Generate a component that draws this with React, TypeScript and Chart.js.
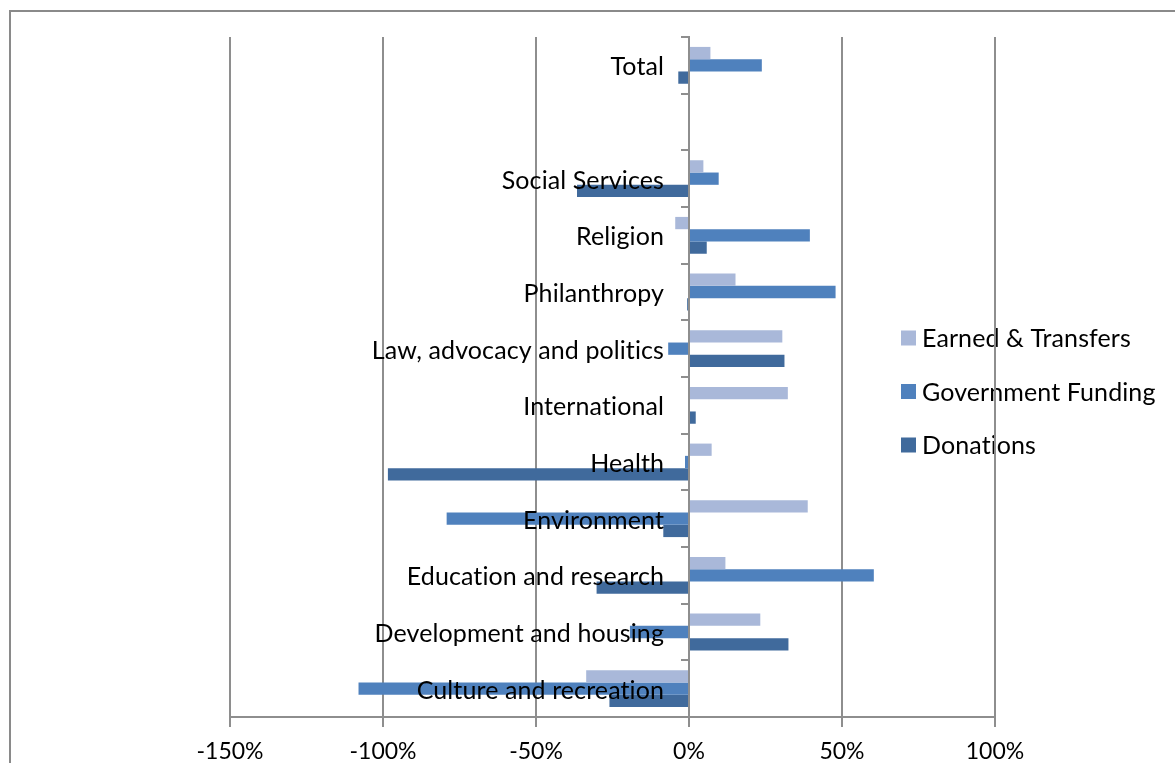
import React, { useEffect, useRef } from "react";
import { Chart, registerables } from "chart.js";

Chart.register(...registerables);

// Categories, listed top to bottom as they appear on the chart
const categories: string[] = [
  "Total",
  "",
  "Social Services",
  "Religion",
  "Philanthropy",
  "Law, advocacy and politics",
  "International",
  "Health",
  "Environment",
  "Education and research",
  "Development and housing",
  "Culture and recreation",
];

// Percentage change per revenue source
const earnedTransfers: (number | null)[] = [7.0, null, 4.7, -4.5, 15.2, 30.5, 32.3, 7.4, 38.8, 11.9, 23.3, -33.6];
const governmentFunding: (number | null)[] = [23.8, null, 9.7, 39.5, 47.9, -6.8, 0, -1.3, -79.2, 60.4, -19.3, -108.0];
const donations: (number | null)[] = [-3.5, null, -36.6, 5.8, -0.6, 31.2, 2.2, -98.4, -8.4, -30.2, 32.5, -26.0];

const seriesNames: string[] = ["Earned & Transfers", "Government Funding", "Donations"];
const seriesColors: string[] = ["#a9b8d9", "#4f81bd", "#406a9c"];

const xMin = -150;
const xMax = 100;
const xStep = 50;

const FONT = "Lato, 'Noto Sans', sans-serif";
const GRID = "#8e8e8e";

// White backdrop, outer frame and the legend, all beneath the grid
const framePlugin = {
  id: "frameAndLegend",
  beforeDraw(chart: any) {
    const ctx = chart.ctx;
    ctx.save();
    ctx.fillStyle = "#ffffff";
    ctx.fillRect(0, 0, chart.width, chart.height);
    ctx.strokeStyle = "#8a8a8a";
    ctx.lineWidth = 2;
    ctx.strokeRect(10, 11, chart.width + 20, chart.height + 20);

    const sets = chart.data.datasets;
    ctx.font = `25px ${FONT}`;
    (ctx as any).letterSpacing = "0.1px";
    ctx.textBaseline = "middle";
    ctx.textAlign = "left";
    sets.forEach((ds: any, i: number) => {
      const y = 338 + i * 53.5;
      ctx.fillStyle = ds.backgroundColor;
      ctx.fillRect(901, y - 7.5, 15, 15);
      ctx.fillStyle = "#000000";
      ctx.fillText(ds.label, 922, y + 1);
    });
    ctx.restore();
  },
};

// Category names sit just left of the zero line, drawn over the bars
const categoryLabelPlugin = {
  id: "categoryLabels",
  afterDatasetsDraw(chart: any) {
    const ctx = chart.ctx;
    const xs = chart.scales.x;
    const ys = chart.scales.y;
    const right = xs.getPixelForValue(0) - 25;
    ctx.save();
    ctx.font = `25px ${FONT}`;
    (ctx as any).letterSpacing = "0.1px";
    ctx.fillStyle = "#000000";
    ctx.textAlign = "right";
    ctx.textBaseline = "middle";
    (chart.data.labels as string[]).forEach((label, i) => {
      if (!label) return;
      ctx.fillText(label, right, ys.getPixelForValue(i) + 2);
    });
    ctx.restore();
  },
};

export default function App() {
  const canvasRef = useRef<HTMLCanvasElement | null>(null);

  useEffect(() => {
    if (!canvasRef.current) return;
    const chart = new Chart(canvasRef.current, {
      type: "bar",
      data: {
        labels: categories,
        datasets: [earnedTransfers, governmentFunding, donations].map((values, i) => ({
          label: seriesNames[i],
          data: values,
          backgroundColor: seriesColors[i],
          borderWidth: 0,
          categoryPercentage: 0.65,
          barPercentage: 1,
        })),
      },
      options: {
        indexAxis: "y",
        responsive: false,
        animation: false,
        events: [],
        layout: { padding: { top: 37, left: 230, right: 180, bottom: 0 } },
        plugins: {
          legend: { display: false },
          tooltip: { enabled: false },
        },
        scales: {
          x: {
            type: "linear",
            min: xMin,
            max: xMax,
            ticks: {
              stepSize: xStep,
              color: "#000000",
              font: { family: FONT, size: 23 },
              padding: 11,
              callback: (v: any) => `${v}%`,
            },
            grid: {
              color: GRID,
              lineWidth: 2,
              tickLength: 10,
            },
            border: { color: GRID, width: 2 },
            afterFit: (scale: any) => {
              scale.height = 46;
            },
          },
          y: {
            type: "category",
            position: { x: 0 },
            ticks: {
              display: false,
              autoSkip: false,
            },
            grid: {
              offset: true,
              drawOnChartArea: false,
              color: GRID,
              lineWidth: 2,
              tickLength: 7,
              z: 1,
            },
            border: { color: GRID, width: 2, z: 1 },
          },
        },
      },
      plugins: [framePlugin, categoryLabelPlugin],
    });
    return () => chart.destroy();
  }, []);

  return (
    <div style={{ position: "absolute", left: 0, top: 0, width: 1175, height: 763 }}>
      <canvas ref={canvasRef} width={1175} height={763} style={{ display: "block" }} />
    </div>
  );
}
